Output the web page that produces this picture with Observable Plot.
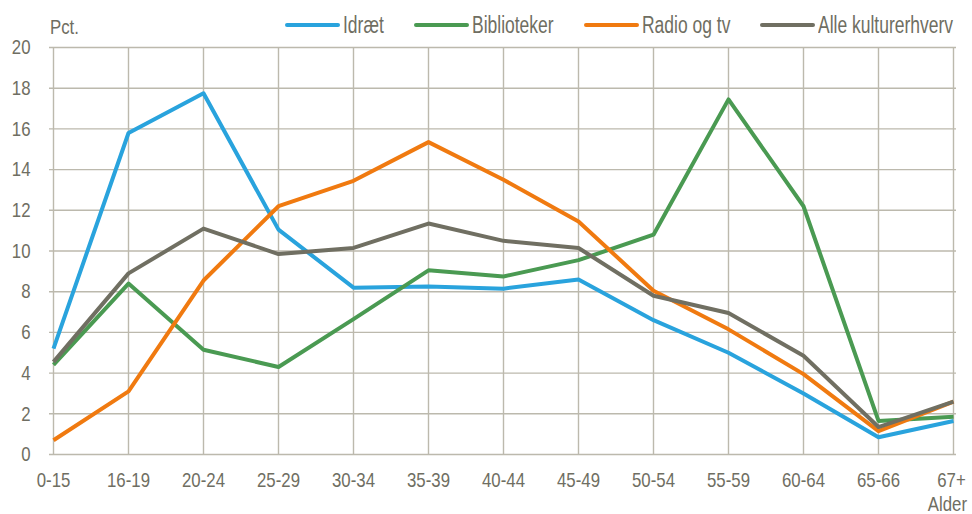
<!DOCTYPE html>
<html>
<head>
<meta charset="utf-8">
<script src="https://cdn.jsdelivr.net/npm/d3@7"></script>
<script src="https://cdn.jsdelivr.net/npm/@observablehq/plot@0.6"></script>
<style>
  html, body { margin: 0; padding: 0; background: #fff; }
  #wrap { position: relative; width: 972px; height: 514px; font-family: "Liberation Sans", Arial, sans-serif; color: #6f6e62; }
  .lbl { position: absolute; font-size: 21px; line-height: 1; white-space: nowrap; }
  .legtxt { position: absolute; font-size: 23px; line-height: 1; white-space: nowrap; transform: scaleX(0.76); transform-origin: left center; }
  .sw { position: absolute; width: 55px; height: 4px; border-radius: 2px; top: 23px; }
  .nar { display: inline-block; transform: scaleX(0.8); transform-origin: left center; }
</style>
</head>
<body>
<div id="wrap"></div>
<script>
const ages = ["0-15","16-19","20-24","25-29","30-34","35-39","40-44","45-49","50-54","55-59","60-64","65-66","67+"];
const seriesNames = ["Idræt","Biblioteker","Radio og tv","Alle kulturerhverv"];
const seriesColors = ["#29a3dd","#4a9a52","#f07a10","#706f62"];
const idraet      = [5.2, 15.8, 17.75, 11.05, 8.2, 8.25, 8.15, 8.6, 6.6, 5.0, 3.0, 0.85, 1.65];
const biblioteker = [4.4, 8.4, 5.15, 4.3, 6.65, 9.05, 8.75, 9.55, 10.8, 17.45, 12.2, 1.65, 1.85];
const radio       = [0.7, 3.1, 8.55, 12.2, 13.45, 15.35, 13.5, 11.45, 8.05, 6.15, 3.95, 1.15, 2.6];
const alle        = [4.55, 8.9, 11.1, 9.85, 10.15, 11.35, 10.5, 10.15, 7.8, 6.95, 4.85, 1.35, 2.6];
const yTicks = [0,2,4,6,8,10,12,14,16,18,20];

const seriesValues = [idraet, biblioteker, radio, alle];
const data = [];
seriesNames.forEach((s, i) => ages.forEach((a, j) => data.push({series: s, age: a, value: seriesValues[i][j]})));

const grid = "#bcb9ad";
const textColor = "#6f6e62";

const chart = Plot.plot({
  width: 972,
  height: 514,
  marginLeft: 49,
  marginRight: 16,
  marginTop: 47,
  marginBottom: 60,
  style: {fontFamily: '"Liberation Sans", Arial, sans-serif', fontSize: "21px", color: textColor, background: "transparent"},
  x: {type: "point", domain: ages, padding: 0},
  y: {domain: [0, 20]},
  color: {domain: seriesNames, range: seriesColors},
  marks: [
    Plot.gridX(ages, {stroke: grid, strokeOpacity: 1, strokeWidth: 1.4}),
    Plot.gridY(yTicks, {stroke: grid, strokeOpacity: 1, strokeWidth: 1.4}),
    Plot.axisX(ages, {tickSize: 0, tickPadding: 18, label: null, fill: textColor}),
    Plot.axisY(yTicks, {tickSize: 0, tickPadding: 19, label: null, fill: textColor}),
    Plot.line(data, {x: "age", y: "value", z: "series", stroke: "series", strokeWidth: 4, strokeLinejoin: "round", strokeLinecap: "butt"})
  ]
});

const wrap = document.getElementById("wrap");
chart.style.position = "absolute";
chart.style.left = "0";
chart.style.top = "0";
wrap.appendChild(chart);

// condense axis tick labels (narrow look) without moving their anchors
chart.querySelectorAll('[aria-label="x-axis tick label"] text, [aria-label="y-axis tick label"] text').forEach(t => {
  const len = t.getComputedTextLength();
  if (len > 0) {
    t.setAttribute("textLength", (len * 0.8).toFixed(2));
    t.setAttribute("lengthAdjust", "spacingAndGlyphs");
  }
  if (t.textContent === ages[ages.length - 1]) t.setAttribute("dx", "-2");
});

function addLabel(text, pos, top, origin, lh) {
  const d = document.createElement("div");
  d.className = "lbl";
  Object.assign(d.style, pos);
  d.style.top = top + "px";
  if (lh) d.style.lineHeight = lh + "px";
  const s = document.createElement("span");
  s.className = "nar";
  s.style.transformOrigin = origin;
  s.textContent = text;
  d.appendChild(s);
  wrap.appendChild(d);
  return d;
}
addLabel("Pct.", {left: "50px"}, 16, "left center");
addLabel("Alder", {right: "5px"}, 496, "right center", 16);

const legLine = [285, 414, 584, 760];
seriesNames.forEach((s, i) => {
  const sw = document.createElement("div");
  sw.className = "sw";
  sw.style.left = legLine[i] + "px";
  sw.style.background = seriesColors[i];
  wrap.appendChild(sw);
  const t = document.createElement("div");
  t.className = "legtxt";
  t.style.left = (legLine[i] + 58) + "px";
  t.style.top = "13.5px";
  t.textContent = s;
  wrap.appendChild(t);
});
</script>
</body>
</html>
